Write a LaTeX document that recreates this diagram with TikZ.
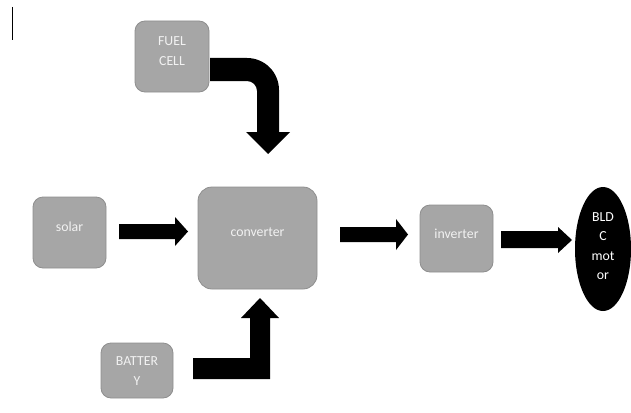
\documentclass[tikz,border=0pt]{standalone}
\usepackage{fontspec}
\usetikzlibrary{shapes.geometric}
\setmainfont{Carlito}
\definecolor{boxgray}{HTML}{A6A6A6}
\definecolor{boxedge}{HTML}{8E8E8E}
\definecolor{labelcol}{HTML}{F2F2F2}
\begin{document}
\begin{tikzpicture}[x=1pt,y=-1pt,
  box/.style={fill=boxgray,draw=boxedge,line width=0.8pt,rounded corners=10pt,inner sep=0pt},
  lbl/.style={text=labelcol,font=\fontsize{13.8}{19.5}\selectfont,align=center,inner sep=0pt},
  blk/.style={fill=black,draw=none}]
\useasboundingbox (0,0) rectangle (631,412);
% cursor mark
\draw[line width=0.8pt] (12,7) -- (12,40);
% boxes
\node[box,minimum width=74pt,minimum height=71pt] (fuel) at (172,56.5) {};
\node[box,minimum width=73pt,minimum height=71pt] (solar) at (69.5,232.5) {};
\node[box,minimum width=119pt,minimum height=102pt,rounded corners=14pt] (conv) at (257.5,238) {};
\node[box,minimum width=72pt,minimum height=55pt] (batt) at (137,370.5) {};
\node[box,minimum width=73pt,minimum height=67pt] (inv) at (456.5,238.5) {};
\node[ellipse,fill=black,minimum width=56pt,minimum height=124pt,inner sep=0pt] (motor) at (603,249) {};
% labels
\node[lbl] (fueltxt) at (172,51) {FUEL\\CELL};
\node[lbl] (solartxt) at (69.5,227) {solar};
\node[lbl] (convtxt) at (257.5,232) {converter};
\node[lbl] (batttxt) at (137,371) {BATTER\\Y};
\node[lbl] (invtxt) at (456.5,234) {inverter};
\node[lbl,text=white] (motortxt) at (603,246) {BLD\\C\\mot\\or};
% block arrows
\path[blk] (119,224) -- (175,224) -- (175,217) -- (188,231.5) -- (175,246) -- (175,239) -- (119,239) -- cycle;
\path[blk] (340,227) -- (396,227) -- (396,219) -- (408,234.5) -- (396,250) -- (396,242) -- (340,242) -- cycle;
\path[blk] (501,231) -- (558,231) -- (558,227) -- (572,240) -- (558,253) -- (558,248) -- (501,248) -- cycle;
\path[blk] (193,358) -- (250,358) -- (250,318) -- (241,318) -- (260,298) -- (279,318) -- (270,318) -- (270,379) -- (193,379) -- cycle;
\path[blk] (210,58) -- (247,58) arc[start angle=-90,end angle=0,radius=32] -- (279,132) -- (290,132) -- (268,154) -- (246,132) -- (257,132) -- (257,91) arc[start angle=0,end angle=-90,radius=10] -- (210,81) -- cycle;
\end{tikzpicture}
\end{document}
